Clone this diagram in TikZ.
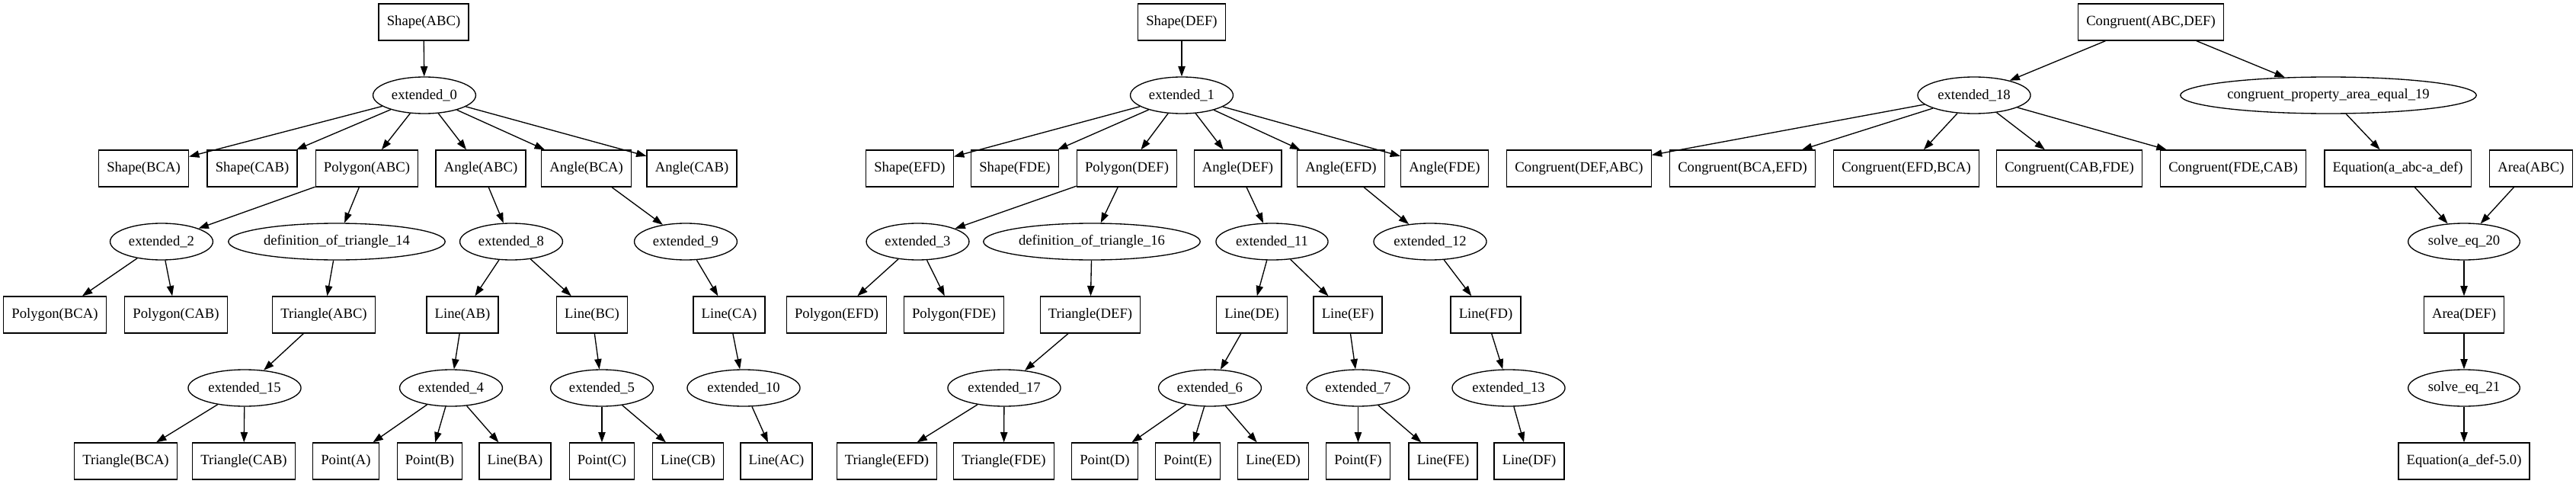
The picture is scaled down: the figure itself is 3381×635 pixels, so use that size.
\documentclass[tikz,border=0pt]{standalone}
\usepackage{fontspec}
\setmainfont{Liberation Serif}
\usetikzlibrary{shapes.geometric,arrows.meta}
\begin{document}
\begin{tikzpicture}[x=0.75pt,y=-0.75pt,
   font=\fontsize{14}{16}\selectfont,
   fact/.style={draw, rectangle, line width=1pt, minimum height=36pt, minimum width=54pt, inner xsep=8pt},
   deriv/.style={draw, ellipse, line width=1pt, minimum height=36pt, inner xsep=3.5pt, inner ysep=0pt},
   edge/.style={line width=1pt, -{Triangle[length=10pt,width=7pt]}}]
   \useasboundingbox (0,0) rectangle (3381,635);

   \node[fact] (ShapeABC) at (556,29) {Shape(ABC)};
   \node[deriv] (ext0) at (557,125) {extended\_0};
   \node[fact] (ShapeBCA) at (188.5,221) {Shape(BCA)};
   \node[fact] (ShapeCAB) at (331,221) {Shape(CAB)};
   \node[fact] (PolyABC) at (481.5,221) {Polygon(ABC)};
   \node[fact] (AngleABC) at (631,221) {Angle(ABC)};
   \node[fact] (AngleBCA) at (769.5,221) {Angle(BCA)};
   \node[fact] (AngleCAB) at (908,221) {Angle(CAB)};
   \node[deriv] (ext2) at (212,317) {extended\_2};
   \node[deriv] (def14) at (442,317) {definition\_of\_triangle\_14};
   \node[deriv] (ext8) at (671,317) {extended\_8};
   \node[deriv] (ext9) at (900,317) {extended\_9};
   \node[fact] (PolyBCA) at (72,413) {Polygon(BCA)};
   \node[fact] (PolyCAB) at (231,413) {Polygon(CAB)};
   \node[fact] (TriABC) at (425,413) {Triangle(ABC)};
   \node[fact] (LineAB) at (607,413) {Line(AB)};
   \node[fact] (LineBC) at (777,413) {Line(BC)};
   \node[fact] (LineCA) at (957,413) {Line(CA)};
   \node[deriv] (ext15) at (321,509) {extended\_15};
   \node[deriv] (ext4) at (592,509) {extended\_4};
   \node[deriv] (ext5) at (790,509) {extended\_5};
   \node[deriv] (ext10) at (976,509) {extended\_10};
   \node[fact] (TriBCA) at (165,605) {Triangle(BCA)};
   \node[fact] (TriCAB) at (320,605) {Triangle(CAB)};
   \node[fact] (PointA) at (454,605) {Point(A)};
   \node[fact] (PointB) at (564,605) {Point(B)};
   \node[fact] (LineBA) at (676,605) {Line(BA)};
   \node[fact] (PointC) at (790,605) {Point(C)};
   \node[fact] (LineCB) at (903,605) {Line(CB)};
   \node[fact] (LineAC) at (1019,605) {Line(AC)};

   \node[fact] (ShapeDEF) at (1551,29) {Shape(DEF)};
   \node[deriv] (ext1) at (1551,125) {extended\_1};
   \node[fact] (ShapeEFD) at (1194,221) {Shape(EFD)};
   \node[fact] (ShapeFDE) at (1332,221) {Shape(FDE)};
   \node[fact] (PolyDEF) at (1479,221) {Polygon(DEF)};
   \node[fact] (AngleDEF) at (1624.5,221) {Angle(DEF)};
   \node[fact] (AngleEFD) at (1760,221) {Angle(EFD)};
   \node[fact] (AngleFDE) at (1896,221) {Angle(FDE)};
   \node[deriv] (ext3) at (1204.5,317) {extended\_3};
   \node[deriv] (def16) at (1433,317) {definition\_of\_triangle\_16};
   \node[deriv] (ext11) at (1669.5,317) {extended\_11};
   \node[deriv] (ext12) at (1877,317) {extended\_12};
   \node[fact] (PolyEFD) at (1098,413) {Polygon(EFD)};
   \node[fact] (PolyFDE) at (1252,413) {Polygon(FDE)};
   \node[fact] (TriDEF) at (1431,413) {Triangle(DEF)};
   \node[fact] (LineDE) at (1643,413) {Line(DE)};
   \node[fact] (LineEF) at (1769,413) {Line(EF)};
   \node[fact] (LineFD) at (1950,413) {Line(FD)};
   \node[deriv] (ext17) at (1318,509) {extended\_17};
   \node[deriv] (ext6) at (1588,509) {extended\_6};
   \node[deriv] (ext7) at (1782.5,509) {extended\_7};
   \node[deriv] (ext13) at (1980,509) {extended\_13};
   \node[fact] (TriEFD) at (1164,605) {Triangle(EFD)};
   \node[fact] (TriFDE) at (1317.5,605) {Triangle(FDE)};
   \node[fact] (PointD) at (1450,605) {Point(D)};
   \node[fact] (PointE) at (1559,605) {Point(E)};
   \node[fact] (LineED) at (1671,605) {Line(ED)};
   \node[fact] (PointF) at (1782.5,605) {Point(F)};
   \node[fact] (LineFE) at (1894,605) {Line(FE)};
   \node[fact] (LineDF) at (2007,605) {Line(DF)};

   \node[fact] (CongABCDEF) at (2823,29) {Congruent(ABC,DEF)};
   \node[deriv] (ext18) at (2591,125) {extended\_18};
   \node[deriv] (cong19) at (3056,125) {congruent\_property\_area\_equal\_19};
   \node[fact] (CongDEFABC) at (2072.5,221) {Congruent(DEF,ABC)};
   \node[fact] (CongBCAEFD) at (2287,221) {Congruent(BCA,EFD)};
   \node[fact] (CongEFDBCA) at (2502,221) {Congruent(EFD,BCA)};
   \node[fact] (CongCABFDE) at (2716,221) {Congruent(CAB,FDE)};
   \node[fact] (CongFDECAB) at (2931,221) {Congruent(FDE,CAB)};
   \node[fact] (EqABC) at (3147,221) {Equation(a\_abc-a\_def)};
   \node[fact] (AreaABC) at (3322,221) {Area(ABC)};
   \node[deriv] (solve20) at (3234,317) {solve\_eq\_20};
   \node[fact] (AreaDEF) at (3234,413) {Area(DEF)};
   \node[deriv] (solve21) at (3234,509) {solve\_eq\_21};
   \node[fact] (EqDEF) at (3234,605) {Equation(a\_def-5.0)};

   \foreach \a/\b in {ShapeABC/ext0, ext0/ShapeBCA, ext0/ShapeCAB, ext0/PolyABC, ext0/AngleABC,
      ext0/AngleBCA, ext0/AngleCAB, PolyABC/ext2, PolyABC/def14, AngleABC/ext8, AngleBCA/ext9,
      ext2/PolyBCA, ext2/PolyCAB, def14/TriABC, ext8/LineAB, ext8/LineBC, ext9/LineCA,
      TriABC/ext15, LineAB/ext4, LineBC/ext5, LineCA/ext10, ext15/TriBCA, ext15/TriCAB,
      ext4/PointA, ext4/PointB, ext4/LineBA, ext5/PointC, ext5/LineCB, ext10/LineAC}
   \draw[edge] (\a) -- (\b);

   \foreach \a/\b in {ShapeDEF/ext1, ext1/ShapeEFD, ext1/ShapeFDE, ext1/PolyDEF, ext1/AngleDEF,
      ext1/AngleEFD, ext1/AngleFDE, PolyDEF/ext3, PolyDEF/def16, AngleDEF/ext11, AngleEFD/ext12,
      ext3/PolyEFD, ext3/PolyFDE, def16/TriDEF, ext11/LineDE, ext11/LineEF, ext12/LineFD,
      TriDEF/ext17, LineDE/ext6, LineEF/ext7, LineFD/ext13, ext17/TriEFD, ext17/TriFDE,
      ext6/PointD, ext6/PointE, ext6/LineED, ext7/PointF, ext7/LineFE, ext13/LineDF}
   \draw[edge] (\a) -- (\b);

   \foreach \a/\b in {CongABCDEF/ext18, CongABCDEF/cong19, ext18/CongDEFABC, ext18/CongBCAEFD,
      ext18/CongEFDBCA, ext18/CongCABFDE, ext18/CongFDECAB, cong19/EqABC, EqABC/solve20,
      AreaABC/solve20, solve20/AreaDEF, AreaDEF/solve21, solve21/EqDEF}
   \draw[edge] (\a) -- (\b);

\end{tikzpicture}
\end{document}
